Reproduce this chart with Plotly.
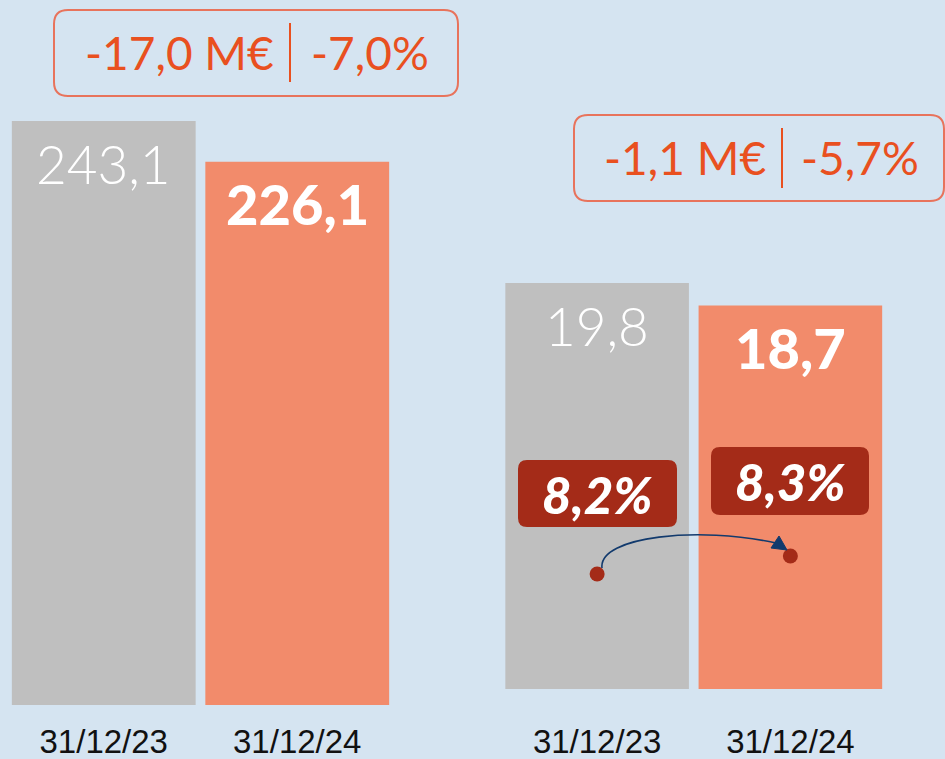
import plotly.graph_objects as go

# Data
periods = ["31/12/23", "31/12/24"]
revenue = [243.1, 226.1]
result = [19.8, 18.7]
margin_pct = [8.2, 8.3]
revenue_labels = ["243,1", "226,1"]
result_labels = ["19,8", "18,7"]
margin_labels = ["8,2%", "8,3%"]
revenue_delta = ["-17,0 M€", "-7,0%"]
result_delta = ["-1,1 M€", "-5,7%"]

W, H = 945, 759
BG = "#d5e4f1"
GREY = "#bfbfbf"
ORANGE = "#f28b6b"
TXT_ORANGE = "#e9501f"
BORDER = "#e8735c"
DARK_RED = "#a42b18"
NAVY = "#123a6d"


def px(x):
    return x / W


def py(y):
    return 1 - y / H


def rounded_rect(x0, y0, x1, y1, r):
    # path in paper coords built from pixel corners
    pts = [
        f"M {px(x0 + r)},{py(y0)}",
        f"L {px(x1 - r)},{py(y0)}",
        f"Q {px(x1)},{py(y0)} {px(x1)},{py(y0 + r)}",
        f"L {px(x1)},{py(y1 - r)}",
        f"Q {px(x1)},{py(y1)} {px(x1 - r)},{py(y1)}",
        f"L {px(x0 + r)},{py(y1)}",
        f"Q {px(x0)},{py(y1)} {px(x0)},{py(y1 - r)}",
        f"L {px(x0)},{py(y0 + r)}",
        f"Q {px(x0)},{py(y0)} {px(x0 + r)},{py(y0)} Z",
    ]
    return " ".join(pts)


fig = go.Figure()

fig.add_trace(go.Bar(
    x=periods, y=revenue, xaxis="x", yaxis="y",
    marker=dict(color=[GREY, ORANGE], line=dict(width=0)),
    hoverinfo="skip",
))
fig.add_trace(go.Bar(
    x=periods, y=result, xaxis="x2", yaxis="y2",
    marker=dict(color=[GREY, ORANGE], line=dict(width=0)),
    hoverinfo="skip",
))
fig.add_trace(go.Scatter(
    x=periods, y=margin_pct, xaxis="x2", yaxis="y3",
    mode="markers", marker=dict(color=DARK_RED, size=15),
    hoverinfo="skip",
))

annotations = []
shapes = []

# value labels inside bars
light = dict(family="Lato", size=53, weight=300, color="white")
heavy = dict(family="Lato", size=56, weight=900, color="white")
for i, p in enumerate(periods):
    annotations.append(dict(
        x=p, y=revenue[i], xref="x", yref="y", text=revenue_labels[i],
        showarrow=False, yanchor="middle", yshift=-42,
        font=light if i == 0 else heavy,
    ))
    annotations.append(dict(
        x=p, y=result[i], xref="x2", yref="y2", text=result_labels[i],
        showarrow=False, yanchor="middle", yshift=-42,
        font=light if i == 0 else heavy,
    ))

# margin labels
pct_shift = [80, 75]
pct_boxes = [(518, 460, 677, 527), (711, 447, 869, 515)]
for i, p in enumerate(periods):
    x0, y0, x1, y1 = pct_boxes[i]
    shapes.append(dict(type="path", xref="paper", yref="paper",
                       path=rounded_rect(x0, y0, x1, y1, 9),
                       fillcolor=DARK_RED, line=dict(width=0), layer="above"))
    annotations.append(dict(
        x=p, y=margin_pct[i], xref="x2", yref="y3", text=margin_labels[i],
        showarrow=False, yanchor="middle", yshift=pct_shift[i],
        font=dict(family="Lato", size=51, weight=900, style="italic", color="white"),
    ))

# curved arrow between dots
arc = (f"M {px(602)},{py(568)} C {px(598)},{py(536)} {px(700)},{py(526)} {px(776)},{py(543)}")
shapes.append(dict(type="path", xref="paper", yref="paper", path=arc,
                   line=dict(color=NAVY, width=1.6), layer="above"))
head = (f"M {px(787)},{py(550)} L {px(771)},{py(548)} L {px(779)},{py(536)} Z")
shapes.append(dict(type="path", xref="paper", yref="paper", path=head,
                   fillcolor=NAVY, line=dict(color=NAVY, width=1), layer="above"))

# delta boxes
delta_font = dict(family="Lato", size=46, color=TXT_ORANGE)
boxes = [
    dict(rect=(54, 10, 458, 96), sep=290, sep_y=(23, 82), cx=(179, 370), cy=52, txt=revenue_delta),
    dict(rect=(574, 115, 944, 201), sep=782, sep_y=(128, 188), cx=(685, 860), cy=157, txt=result_delta),
]
for b in boxes:
    x0, y0, x1, y1 = b["rect"]
    shapes.append(dict(type="path", xref="paper", yref="paper",
                       path=rounded_rect(x0, y0, x1, y1, 14),
                       line=dict(color=BORDER, width=2)))
    shapes.append(dict(type="line", xref="paper", yref="paper",
                       x0=px(b["sep"]), x1=px(b["sep"]),
                       y0=py(b["sep_y"][0]), y1=py(b["sep_y"][1]),
                       line=dict(color=TXT_ORANGE, width=2)))
    for t, cx in zip(b["txt"], b["cx"]):
        annotations.append(dict(x=px(cx), y=py(b["cy"]), xref="paper", yref="paper",
                                text=t, showarrow=False, xanchor="center", yanchor="middle",
                                font=delta_font))

tick_font = dict(family="Liberation Sans", size=33, color="#111111")
xaxis_style = dict(anchor="free", position=py(705), automargin=False,
                   showgrid=False, zeroline=False, showline=False, ticks="",
                   tickfont=tick_font, ticklabelstandoff=14, fixedrange=True)

fig.update_layout(
    width=W, height=H,
    margin=dict(l=0, r=0, t=0, b=0),
    paper_bgcolor=BG, plot_bgcolor=BG,
    showlegend=False,
    bargap=0.05,
    xaxis=dict(domain=[px(7), px(394)], **xaxis_style),
    yaxis=dict(domain=[py(705), 1], range=[0, 705 / (584 / 243.1)],
               visible=False, automargin=False),
    xaxis2=dict(domain=[px(500.5), px(887)], **xaxis_style),
    yaxis2=dict(domain=[py(689), 1], range=[0, 689 / (406 / 19.8)],
                visible=False, automargin=False),
    yaxis3=dict(overlaying="y2", range=[8.2 - 115 / 180, 8.2 + 574 / 180],
                visible=False, automargin=False),
    annotations=annotations,
    shapes=shapes,
)

# drop the default page margin so the figure sits at the window's corner
fig.write_html("out.html", config={"displayModeBar": False},
               post_script="document.body.style.margin='0px';")
